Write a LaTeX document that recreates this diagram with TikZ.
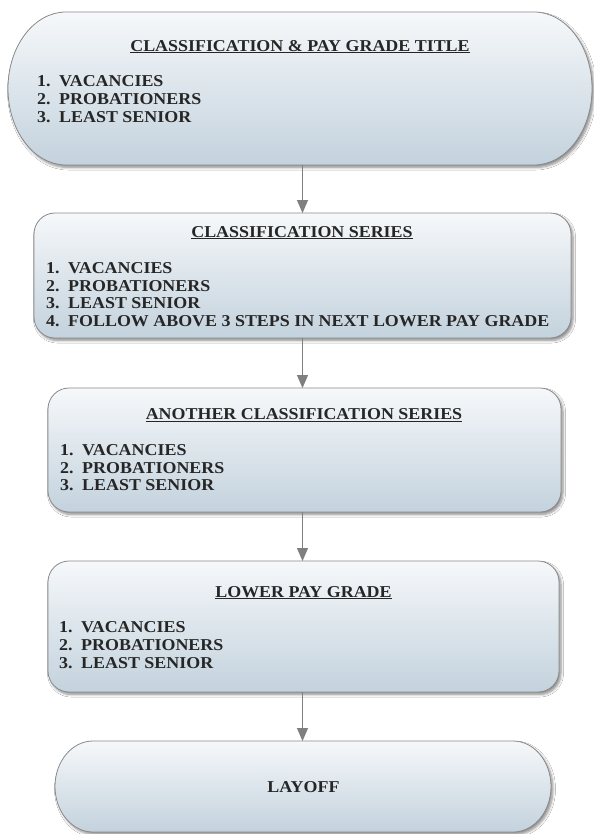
\documentclass[tikz,border=0pt]{standalone}
\usepackage{fontspec}
\setmainfont{Liberation Serif}[FakeStretch=1.08]
\usetikzlibrary{arrows.meta,shadows.blur}
\definecolor{boxtop}{HTML}{F6F8FA}
\definecolor{boxbot}{HTML}{C3D2DD}
\definecolor{boxline}{HTML}{8A8A8A}
\definecolor{txt}{HTML}{262626}
\definecolor{arr}{HTML}{7F7F7F}
\tikzset{
  boxshape/.style={draw=boxline, line width=0.8bp, top color=boxtop, bottom color=boxbot,
    blur shadow={shadow xshift=2bp, shadow yshift=-2.5bp, shadow opacity=45, shadow blur steps=6, shadow blur radius=2.5bp}},
  frame/.style={draw=none, rectangle, inner sep=0pt, outer sep=0pt},
  ttl/.style={anchor=base, inner sep=0pt, text=txt, font=\fontsize{16.6bp}{18bp}\selectfont\bfseries},
  itm/.style={anchor=base west, inner sep=0pt, text=txt, font=\fontsize{16.6bp}{18bp}\selectfont\bfseries},
  conn/.style={draw=arr, line width=1bp, -{Triangle[length=13bp,width=11bp]}}
}
\newcommand\num[1]{\makebox[22bp][l]{#1}}
\begin{document}
\begin{tikzpicture}[x=1bp,y=1bp]
\useasboundingbox (0,0) rectangle (594,-834);
\fill[white] (0,0) rectangle (594,-834);

% box shapes
\path[boxshape] (66,-12) -- (534,-12) arc[start angle=90,end angle=-90,x radius=58,y radius=76.5]
  -- (66,-165) arc[start angle=270,end angle=90,x radius=58,y radius=76.5] -- cycle;
\path[boxshape, rounded corners=21bp] (34,-213) rectangle (571,-338);
\path[boxshape, rounded corners=21bp] (48,-388) rectangle (561,-512);
\path[boxshape, rounded corners=21bp] (48,-561) rectangle (559,-692);
\path[boxshape] (93,-741) -- (513,-741) arc[start angle=90,end angle=-90,x radius=38,y radius=45.5]
  -- (93,-832) arc[start angle=270,end angle=90,x radius=38,y radius=45.5] -- cycle;

% named frames
\node[frame, minimum width=584bp, minimum height=153bp] (b1) at (300,-88.5) {};
\node[frame, minimum width=537bp, minimum height=125bp] (b2) at (302.5,-275.5) {};
\node[frame, minimum width=513bp, minimum height=124bp] (b3) at (304.5,-450) {};
\node[frame, minimum width=511bp, minimum height=131bp] (b4) at (303.5,-626.5) {};
\node[frame, minimum width=496bp, minimum height=91bp] (b5) at (303,-786.5) {};

% box 1
\node[ttl] (t1) at (300,-51) {\underline{CLASSIFICATION \& PAY GRADE TITLE}};
\node[itm] (i11) at (37,-86) {\num{1.}VACANCIES};
\node[itm] (i12) at (37,-104) {\num{2.}PROBATIONERS};
\node[itm] (i13) at (37,-122) {\num{3.}LEAST SENIOR};

% box 2
\node[ttl] (t2) at (302,-237) {\underline{CLASSIFICATION SERIES}};
\node[itm] (i21) at (46,-273) {\num{1.}VACANCIES};
\node[itm] (i22) at (46,-291) {\num{2.}PROBATIONERS};
\node[itm] (i23) at (46,-308.5) {\num{3.}LEAST SENIOR};
\node[itm] (i24) at (46,-326) {\num{4.}FOLLOW ABOVE 3 STEPS IN NEXT LOWER PAY GRADE};

% box 3
\node[ttl] (t3) at (304,-419.5) {\underline{ANOTHER CLASSIFICATION SERIES}};
\node[itm] (i31) at (60,-455.5) {\num{1.}VACANCIES};
\node[itm] (i32) at (60,-473) {\num{2.}PROBATIONERS};
\node[itm] (i33) at (60,-490.7) {\num{3.}LEAST SENIOR};

% box 4
\node[ttl] (t4) at (303.5,-597) {\underline{LOWER PAY GRADE}};
\node[itm] (i41) at (59,-632.7) {\num{1.}VACANCIES};
\node[itm] (i42) at (59,-650.7) {\num{2.}PROBATIONERS};
\node[itm] (i43) at (59,-668) {\num{3.}LEAST SENIOR};

% box 5
\node[ttl] (t5) at (303.5,-792) {LAYOFF};

% connectors
\draw[conn] (b1.south -| b2.north) -- (b2.north);
\draw[conn] (b2.south) -- (b2.south |- b3.north);
\draw[conn] (b3.south -| b2.south) -- (b2.south |- b4.north);
\draw[conn] (b4.south -| b2.south) -- (b2.south |- b5.north);
\end{tikzpicture}
\end{document}
